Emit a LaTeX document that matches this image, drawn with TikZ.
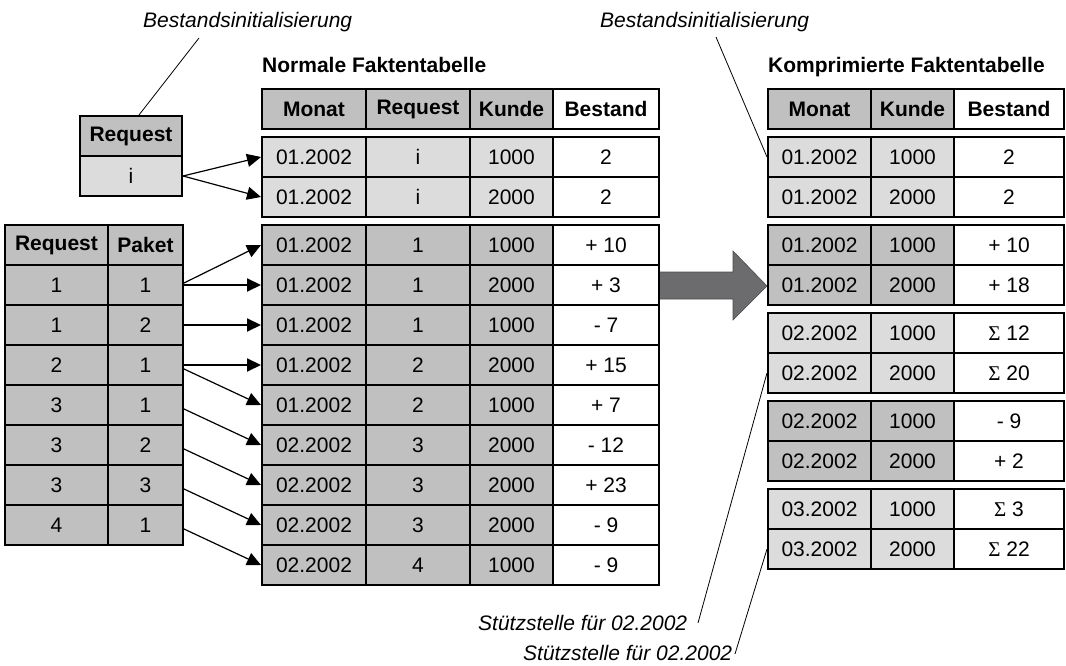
\documentclass[tikz,border=0pt]{standalone}
\usepackage{fontspec}
\setmainfont{Liberation Sans}
\newfontfamily\sigmafont{Liberation Serif}
\usetikzlibrary{arrows.meta,calc}
\definecolor{dkg}{HTML}{C0C0C0}
\definecolor{ltg}{HTML}{DCDCDC}
\definecolor{arrowg}{HTML}{6C6C6F}
\begin{document}
\begin{tikzpicture}[x=1pt,y=-1pt,
  font=\fontsize{21}{25}\selectfont,
  cell/.style={draw, line width=2pt, minimum height=40pt, inner sep=0pt, anchor=center},
  hd/.style={cell, font=\fontsize{21}{25}\selectfont\bfseries},
  conn/.style={line width=1.2pt, -{Triangle[length=14pt,width=13pt]}},
  hconn/.style={conn, line width=2pt},
  lbl/.style={font=\fontsize{21}{25}\selectfont\itshape, inner sep=0pt, anchor=base west},
  lead/.style={line width=0.8pt},
  title/.style={font=\fontsize{21}{25}\selectfont\bfseries, inner sep=0pt, anchor=base west}]
\useasboundingbox (0,0) rectangle (1066,666);

% big arrow
\filldraw[fill=arrowg, draw=black!70, line width=0.6pt] (659,272) -- (733,272) -- (733,251) -- (767,286) -- (733,320) -- (733,299) -- (659,299) -- cycle;

% titles and labels
\node[title] (t1) at (262,73) {Normale Faktentabelle};
\node[title] (t2) at (768,73) {Komprimierte Faktentabelle};
\node[lbl] (bi1) at (143,28) {Bestandsinitialisierung};
\node[lbl] (bi2) at (600,28) {Bestandsinitialisierung};
\node[lbl] (s1) at (478,630) {Stützstelle für 02.2002};
\node[lbl] (s2) at (523,660) {Stützstelle für 02.2002};
\coordinate (c1) at (199,38);
\coordinate (c2) at (716,37);
\coordinate (c3) at (698,623);
\coordinate (c4) at (735,654);

% request box
\node[hd, fill=dkg, minimum width=102pt] (rh) at (131,136) {Request};
\node[cell, fill=ltg, minimum width=102pt] (ri) at (131,176) {i};

% left table
\node[hd, fill=dkg, minimum width=103pt] (lh1) at (56.5,245) {Request};
\node[hd, fill=dkg, minimum width=75pt] (lh2) at (145.5,245) {Paket};
\foreach \a/\b [count=\i] in {1/1,1/2,2/1,3/1,3/2,3/3,4/1} {
  \pgfmathsetmacro\yy{245+40*\i}
  \node[cell, fill=dkg, minimum width=103pt] (lr\i) at (56.5,\yy) {\a};
  \node[cell, fill=dkg, minimum width=75pt] (lp\i) at (145.5,\yy) {\b};
}

% middle table header
\node[hd, fill=dkg, minimum width=104pt] (mh1) at (314,109) {Monat};
\node[hd, fill=dkg, minimum width=104pt] (mh2) at (418,109) {Request};
\node[hd, fill=dkg, minimum width=83pt] (mh3) at (511.5,109) {Kunde};
\node[hd, fill=white, minimum width=106pt] (mh4) at (606,109) {Bestand};

% middle group 1
\foreach \m/\r/\k/\b [count=\i] in {01.2002/i/1000/2, 01.2002/i/2000/2} {
  \pgfmathsetmacro\yy{117+40*\i}
  \node[cell, fill=ltg, minimum width=104pt] (mi\i) at (314,\yy) {\m};
  \node[cell, fill=ltg, minimum width=104pt] (mir\i) at (418,\yy) {\r};
  \node[cell, fill=ltg, minimum width=83pt] (mik\i) at (511.5,\yy) {\k};
  \node[cell, fill=white, minimum width=106pt] (mib\i) at (606,\yy) {\b};
}

% middle group 2
\foreach \m/\r/\k/\b [count=\i] in {
  01.2002/1/1000/{+ 10}, 01.2002/1/2000/{+ 3}, 01.2002/1/1000/{- 7},
  01.2002/2/2000/{+ 15}, 01.2002/2/1000/{+ 7}, 02.2002/3/2000/{- 12},
  02.2002/3/2000/{+ 23}, 02.2002/3/2000/{- 9}, 02.2002/4/1000/{- 9}} {
  \pgfmathsetmacro\yy{205+40*\i}
  \node[cell, fill=dkg, minimum width=104pt] (m\i) at (314,\yy) {\m};
  \node[cell, fill=dkg, minimum width=104pt] (mr\i) at (418,\yy) {\r};
  \node[cell, fill=dkg, minimum width=83pt] (mk\i) at (511.5,\yy) {\k};
  \node[cell, fill=white, minimum width=106pt] (mb\i) at (606,\yy) {\b};
}

% right table header
\node[hd, fill=dkg, minimum width=103pt] (kh1) at (819.5,109) {Monat\hspace{20pt}};
\node[hd, fill=dkg, minimum width=83pt] (kh2) at (912.5,109) {Kunde};
\node[hd, fill=white, minimum width=110pt] (kh3) at (1009,109) {Bestand};

% right groups
\foreach \g/\top/\col/\ma/\ba/\mb/\bb in {
  1/137/ltg/01.2002/2/01.2002/2,
  2/225/dkg/01.2002/{+ 10}/01.2002/{+ 18},
  3/313/ltg/02.2002/{{\sigmafont Σ} 12}/02.2002/{{\sigmafont Σ} 20},
  4/401/dkg/02.2002/{- 9}/02.2002/{+ 2},
  5/489/ltg/03.2002/{{\sigmafont Σ} 3}/03.2002/{{\sigmafont Σ} 22}} {
  \pgfmathsetmacro\ya{\top+20}
  \pgfmathsetmacro\yb{\top+60}
  \node[cell, fill=\col, minimum width=103pt] (k\g1) at (819.5,\ya) {\ma};
  \node[cell, fill=\col, minimum width=83pt] (kk\g1) at (912.5,\ya) {1000};
  \node[cell, fill=white, minimum width=110pt] (kb\g1) at (1009,\ya) {\ba};
  \node[cell, fill=\col, minimum width=103pt] (k\g2) at (819.5,\yb) {\mb};
  \node[cell, fill=\col, minimum width=83pt] (kk\g2) at (912.5,\yb) {2000};
  \node[cell, fill=white, minimum width=110pt] (kb\g2) at (1009,\yb) {\bb};
}

% connectors
\draw[conn] (ri.east) -- (mi1.west);
\draw[conn] (ri.east) -- (mi2.west);
\draw[conn] ($(lp1.east)+(0,-2)$) -- (m1.west);
\draw[hconn] (lp1.east) -- (m2.west);
\draw[hconn] (lp2.east) -- (m3.west);
\draw[hconn] (lp3.east) -- (m4.west);
\foreach \s/\t in {3/5,4/6,5/7,6/8,7/9}
  \draw[conn] ($(lp\s.east)+(0,4)$) -- (m\t.west);

% leader lines
\draw[lead] (c1) -- ($(rh.north)+(8,0)$);
\draw[lead] (c2) -- (k11.west);
\draw[lead] (c3) -- (k32.west);
\draw[lead] (c4) -- (k52.west);
\end{tikzpicture}
\end{document}
